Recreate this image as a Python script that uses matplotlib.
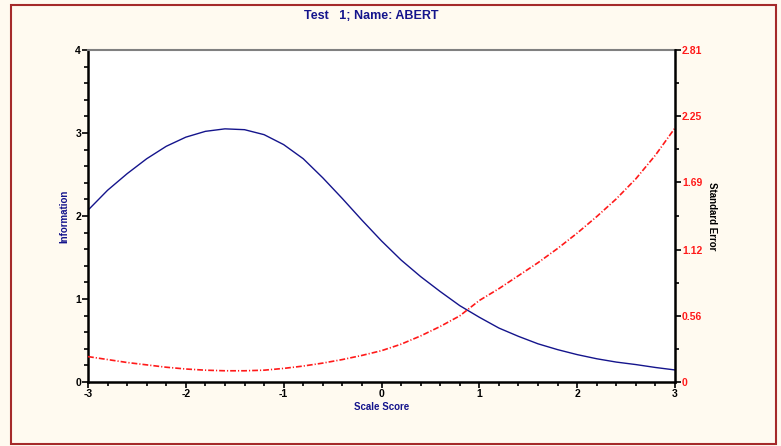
import matplotlib
matplotlib.use("Agg")
import matplotlib.pyplot as plt
from matplotlib.patches import Rectangle
from matplotlib.ticker import MultipleLocator, FixedLocator

# values
scale_score = [-3.0, -2.8, -2.6, -2.4, -2.2, -2.0, -1.8, -1.6, -1.4, -1.2, -1.0,
               -0.8, -0.6, -0.4, -0.2, 0.0, 0.2, 0.4, 0.6, 0.8, 1.0,
               1.2, 1.4, 1.6, 1.8, 2.0, 2.2, 2.4, 2.6, 2.8, 3.0]
information = [2.07, 2.31, 2.51, 2.69, 2.84, 2.95, 3.02, 3.05, 3.04, 2.98, 2.86,
               2.69, 2.46, 2.21, 1.95, 1.70, 1.47, 1.27, 1.09, 0.92, 0.78,
               0.65, 0.55, 0.46, 0.39, 0.33, 0.28, 0.24, 0.21, 0.175, 0.145]
std_error = [0.215, 0.19, 0.165, 0.145, 0.125, 0.11, 0.10, 0.095, 0.095, 0.10, 0.115,
             0.135, 0.16, 0.19, 0.225, 0.265, 0.32, 0.39, 0.47, 0.56, 0.69,
             0.79, 0.90, 1.01, 1.13, 1.26, 1.40, 1.55, 1.72, 1.92, 2.15]
se_ticks = [0, 0.56, 1.12, 1.69, 2.25, 2.81]
se_labels = ["0", "0.56", "1.12", "1.69", "2.25", "2.81"]

navy = "#14148c"
red = "#ff1a1a"
bg = "#fffaf0"

plt.rcParams['font.family'] = ['Liberation Sans', 'DejaVu Sans']
plt.rcParams['axes.unicode_minus'] = False

fig = plt.figure(figsize=(7.81, 4.46), dpi=100)
fig.patch.set_facecolor(bg)
fig.patches.append(Rectangle((11 / 781, 1 - 444 / 446), 765 / 781, 439 / 446,
                             transform=fig.transFigure, fill=False,
                             edgecolor="#a52a2a", linewidth=1.5))

ax = fig.add_axes([88 / 781, 1 - 382 / 446, 587 / 781, 332 / 446])
ax.set_facecolor("white")
ax.plot(scale_score, information, color=navy, linewidth=1.0)
ax.set_xlim(-3, 3)
ax.set_ylim(0, 4)

ax.xaxis.set_major_locator(MultipleLocator(1))
ax.xaxis.set_minor_locator(MultipleLocator(0.2))
ax.yaxis.set_major_locator(MultipleLocator(1))
ax.yaxis.set_minor_locator(MultipleLocator(0.2))
ax.tick_params(which='both', direction='out', width=1.2, color='black', top=False, right=False)
ax.tick_params(which='major', length=4, labelsize=7.5, pad=1)
ax.tick_params(which='minor', length=3)
for lab in ax.get_xticklabels() + ax.get_yticklabels():
    lab.set_fontweight('bold')

for side in ('left', 'bottom'):
    ax.spines[side].set_linewidth(1.8)
ax.spines['top'].set_color('#808080')
ax.spines['top'].set_linewidth(1.5)
ax.spines['right'].set_visible(False)

ax2 = ax.twinx()
ax2.plot(scale_score, std_error, color=red, linewidth=1.2,
         linestyle=(0, (3.5, 1.2, 0.7, 1.2)))
ax2.set_ylim(0, 2.81)
ax2.yaxis.set_major_locator(FixedLocator(se_ticks))
ax2.set_yticklabels(se_labels)
minor = [(a + b) / 2 for a, b in zip(se_ticks[:-1], se_ticks[1:])]
ax2.yaxis.set_minor_locator(FixedLocator(minor))
ax2.tick_params(which='both', direction='out', width=1.2, color='black')
ax2.tick_params(which='major', length=4, labelsize=7.5, pad=1, labelcolor=red)
ax2.tick_params(which='minor', length=3)
for lab in ax2.get_yticklabels():
    lab.set_fontweight('bold')
for side in ('left', 'top', 'bottom'):
    ax2.spines[side].set_visible(False)
ax2.spines['right'].set_linewidth(1.8)

fig.text(371 / 781, 1 - 16 / 446, "Test   1; Name: ABERT", ha='center', va='center',
         color=navy, fontsize=9, fontweight='bold')
fig.text(382 / 781, 1 - 407 / 446, "Scale Score", ha='center', va='center',
         color=navy, fontsize=7, fontweight='bold')
fig.text(64 / 781, 1 - 216 / 446, "Information", ha='center', va='center',
         rotation=90, color=navy, fontsize=7, fontweight='bold')
fig.text(712 / 781, 1 - 216 / 446, "Standard Error", ha='center', va='center',
         rotation=270, color='black', fontsize=7, fontweight='bold')

fig.savefig("out.png", dpi=100, facecolor=bg)
